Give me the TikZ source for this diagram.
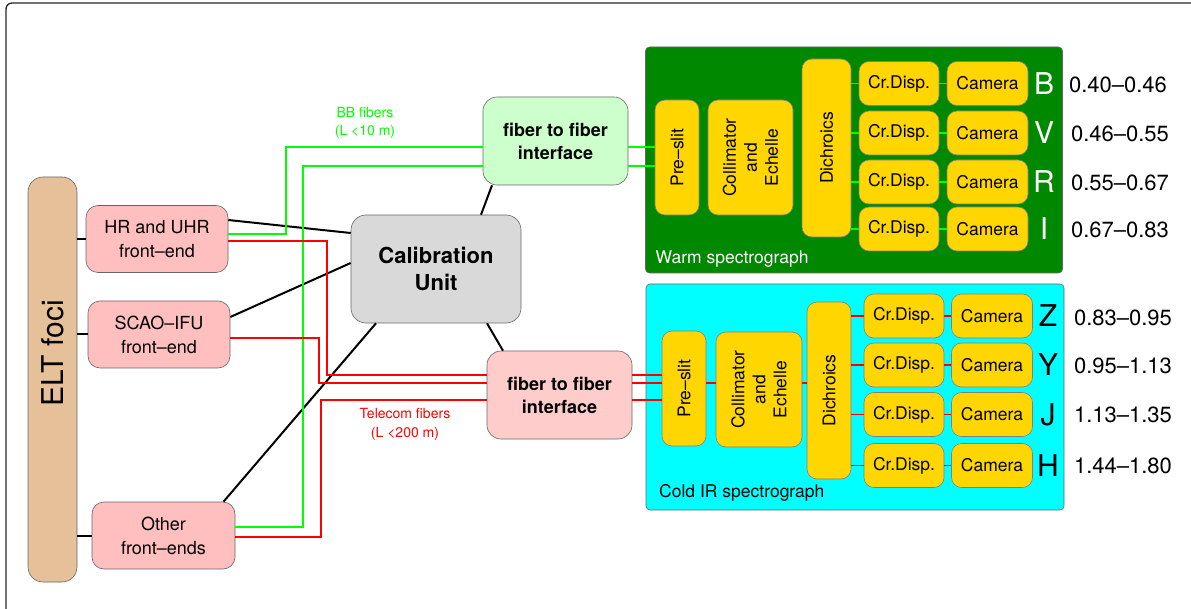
\documentclass[tikz,border=0pt]{standalone}
\usepackage{fontspec}
\setmainfont{TeX Gyre Heros}
\usepackage{xcolor}
\usepackage{tikz}
\usetikzlibrary{positioning, calc}

\definecolor{eltbrown}{RGB}{229,192,153}
\definecolor{fepink}{RGB}{255,191,191}
\definecolor{ffpink}{RGB}{255,204,204}
\definecolor{ffgreen}{RGB}{204,255,204}
\definecolor{cugray}{RGB}{217,217,217}
\definecolor{warmgreen}{RGB}{0,136,0}
\definecolor{coldcyan}{RGB}{0,255,255}
\definecolor{optyellow}{RGB}{255,214,0}
\definecolor{bbgreen}{RGB}{0,255,0}
\definecolor{telred}{RGB}{255,0,0}
\newcommand{\fsz}[2]{\fontsize{#1}{#2}\selectfont}

\begin{document}
\begin{tikzpicture}[
    x=1pt, y=-1pt,
    box/.style={rectangle, draw=black!60, line width=0.6pt, align=center, inner sep=0pt},
    frontend/.style={box, rounded corners=12pt, fill=fepink, minimum width=142pt, minimum height=67pt, font=\fsz{18}{24}},
    fiberbox/.style={box, rounded corners=14pt, minimum width=145pt, minimum height=88pt, font=\bfseries\fsz{18}{23}},
    spectro/.style={box, rounded corners=4pt, minimum width=417pt, minimum height=226pt},
    optic/.style={box, rounded corners=10pt, fill=optyellow, draw=black!50, font=\fsz{17.5}{21}},
    slit/.style={optic, rotate=90, minimum width=115pt, minimum height=44pt},
    disp/.style={optic, minimum width=80pt, minimum height=44pt},
    cam/.style={optic, minimum width=81pt, minimum height=44pt},
    band/.style={font=\fsz{30}{30}},
    bandrange/.style={font=\fsz{22}{22}},
    wire/.style={black, line width=2pt},
    bbfiber/.style={bbgreen, line width=2pt},
    telfiber/.style={telred, line width=2pt},
    wlink/.style={bbgreen, line width=1.5pt},
    clink/.style={telred, line width=1.5pt}
]
\useasboundingbox (0,0) rectangle (1191,609);

% Frame
\draw[black!85, line width=1.3pt, rounded corners=6pt] (1191,3) -- (6,3) -- (6,612);

% Nodes
\node[box, rounded corners=15pt, fill=eltbrown, minimum width=49pt, minimum height=405pt] (elt) at (52.5,379.5) {};
\node[rotate=90, font=\fsz{30}{30}] (eltlabel) at (53,353.5) {ELT foci};

\node[frontend] (hr) at (157,239) {HR and UHR\\front--end};
\node[frontend] (scao) at (159,334.5) {SCAO--IFU\\front--end};
\node[frontend, minimum width=143pt] (other) at (163.5,535.5) {Other\\front--ends};

\node[box, rounded corners=15pt, fill=cugray, minimum width=170pt, minimum height=108pt, font=\bfseries\fsz{22}{27}] (cu) at (436,269) {Calibration\\Unit};

\node[fiberbox, fill=ffgreen] (ffg) at (555.5,141) {fiber to fiber\\interface};
\node[fiberbox, fill=ffpink] (ffr) at (559.5,395) {fiber to fiber\\interface};

% Warm spectrograph
\node[spectro, fill=warmgreen] (warm) at (854,160) {};
\node[anchor=west, white, font=\fsz{17.5}{20}] (warmlabel) at ([xshift=7pt, yshift=14pt]warm.south west) {Warm spectrograph};
\node[slit] (wpre) at (677,157.5) {Pre--slit};
\node[slit, minimum height=85pt] (wcol) at (750.5,157.5) {Collimator\\and\\Echelle};
\node[slit, minimum width=178pt, minimum height=49pt] (wdic) at (826.5,148) {Dichroics};
\node[disp] (wcd1) at (899,83.5) {Cr.Disp.};
\node[disp] (wcd2) at (899,133) {Cr.Disp.};
\node[disp] (wcd3) at (899,182) {Cr.Disp.};
\node[disp] (wcd4) at (899,229) {Cr.Disp.};
\node[cam] (wcam1) at (987.5,83.5) {Camera};
\node[cam] (wcam2) at (987.5,133) {Camera};
\node[cam] (wcam3) at (987.5,182) {Camera};
\node[cam] (wcam4) at (987.5,229) {Camera};
\node[band, white] (bandB) at (1044,83.5) {B};
\node[band, white] (bandV) at (1044,133) {V};
\node[band, white] (bandR) at (1044,182) {R};
\node[band, white] (bandI) at (1044,229) {I};
\node[bandrange] (rangeB) at (1118,85) {0.40--0.46};
\node[bandrange] (rangeV) at (1120,134) {0.46--0.55};
\node[bandrange] (rangeR) at (1120,183) {0.55--0.67};
\node[bandrange] (rangeI) at (1120,230) {0.67--0.83};

% Cold IR spectrograph
\node[spectro, fill=coldcyan, minimum width=418pt] (cold) at (855,397) {};
\node[anchor=west, font=\fsz{17.5}{20}] (coldlabel) at ([xshift=10pt, yshift=17pt]cold.south west) {Cold IR spectrograph};
\node[slit] (cpre) at (684,388.5) {Pre--slit};
\node[slit, minimum height=86pt] (ccol) at (759,389.5) {Collimator\\and\\Echelle};
\node[slit, minimum width=177pt, minimum height=44pt] (cdic) at (829,390.5) {Dichroics};
\node[disp] (ccd1) at (904,316) {Cr.Disp.};
\node[disp] (ccd2) at (904,365) {Cr.Disp.};
\node[disp] (ccd3) at (904,414.5) {Cr.Disp.};
\node[disp] (ccd4) at (904,465.5) {Cr.Disp.};
\node[cam] (ccam1) at (992,316) {Camera};
\node[cam] (ccam2) at (992,365) {Camera};
\node[cam] (ccam3) at (992,414.5) {Camera};
\node[cam] (ccam4) at (992,465.5) {Camera};
\node[band] (bandZ) at (1048,316) {Z};
\node[band] (bandY) at (1048,365) {Y};
\node[band] (bandJ) at (1048,414.5) {J};
\node[band] (bandH) at (1048,465.5) {H};
\node[bandrange] (rangeZ) at (1123,318) {0.83--0.95};
\node[bandrange] (rangeY) at (1123,366) {0.95--1.13};
\node[bandrange] (rangeJ) at (1123,415) {1.13--1.35};
\node[bandrange] (rangeH) at (1123,466) {1.44--1.80};

% Fiber labels
\node[bbgreen, align=center, font=\fsz{14}{18}] (bblabel) at (365,123) {BB fibers\\(L <10 m)};
\node[telred, align=center, font=\fsz{14}{19}] (tellabel) at (405,424.5) {Telecom fibers\\(L <200 m)};

% Black connectors
\draw[wire] (hr.west -| elt.east) -- (hr.west);
\draw[wire] (scao.west -| elt.east) -- (scao.west);
\draw[wire] (other.west -| elt.east) -- (other.west);
\draw[wire] ([yshift=19pt]hr.east) -- ([yshift=36pt]cu.west);
\draw[wire] ([yshift=17.5pt]scao.east) -- ([yshift=6pt]cu.west);
\draw[wire] ([xshift=60pt]other.north) -- ([xshift=-60pt]cu.south);
\draw[wire] ([xshift=45pt]cu.north) -- ([xshift=-63.5pt]ffg.south);
\draw[wire] ([xshift=51pt]cu.south) -- ([xshift=-56.5pt]ffr.north);

% BB fibers
\draw[bbfiber] ([yshift=5pt]hr.east) -- ++(58,0) |- ([yshift=-6pt]ffg.west);
\draw[bbfiber] ([yshift=8.5pt]other.east) -- ++(68,0) |- ([yshift=-25pt]ffg.west);
\draw[bbfiber] ([yshift=-6pt]ffg.east) -- ([yshift=-6pt]ffg.east -| wpre.north);
\draw[bbfiber] ([yshift=-25pt]ffg.east) -- ([yshift=-25pt]ffg.east -| wpre.north);

% Telecom fibers
\draw[telfiber] ([yshift=-2pt]hr.east) -- ++(99,0) |- ([yshift=20pt]ffr.west);
\draw[telfiber] ([yshift=-3.5pt]scao.east) -- ++(89,0) |- ([yshift=12pt]ffr.west);
\draw[telfiber] ([yshift=-1.5pt]other.east) -- ++(86,0) |- ([yshift=-5pt]ffr.west);
\draw[telfiber] ([yshift=20pt]ffr.east) -- ([yshift=20pt]ffr.east -| cpre.north);
\draw[telfiber] ([yshift=12pt]ffr.east) -- ([yshift=12pt]ffr.east -| cpre.north);
\draw[telfiber] ([yshift=-5pt]ffr.east) -- ([yshift=-5pt]ffr.east -| cpre.north);

% Warm links
\draw[wlink] (wcd1.west -| wdic.south) -- (wcd1.west);
\draw[wlink] (wcd2.west -| wdic.south) -- (wcd2.west);
\draw[wlink] (wcd3.west -| wdic.south) -- (wcd3.west);
\draw[wlink] (wcd4.west -| wdic.south) -- (wcd4.west);
\draw[wlink] (wcd1) -- (wcam1);
\draw[wlink] (wcd2) -- (wcam2);
\draw[wlink] (wcd3) -- (wcam3);
\draw[wlink] (wcd4) -- (wcam4);

% Cold links
\draw[clink] ([yshift=5.5pt]cpre.center -| cpre.south) -- ([yshift=5.5pt]cpre.center -| ccol.north);
\draw[clink] ([yshift=5.5pt]cpre.center -| ccol.south) -- ([yshift=5.5pt]cpre.center -| cdic.north);
\draw[clink] (ccd1.west -| cdic.south) -- (ccd1.west);
\draw[clink] (ccd2.west -| cdic.south) -- (ccd2.west);
\draw[clink] (ccd3.west -| cdic.south) -- (ccd3.west);
\draw[clink] (ccd4.west -| cdic.south) -- (ccd4.west);
\draw[clink] (ccd1) -- (ccam1);
\draw[clink] (ccd2) -- (ccam2);
\draw[clink] (ccd3) -- (ccam3);
\draw[clink] (ccd4) -- (ccam4);

\end{tikzpicture}
\end{document}
